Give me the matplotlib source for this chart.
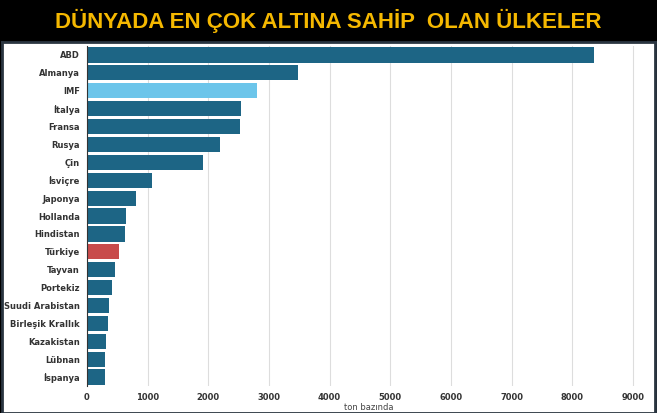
import matplotlib
matplotlib.use("Agg")
import matplotlib.pyplot as plt

countries = ["ABD","Almanya","IMF","İtalya","Fransa","Rusya","Çin","İsviçre","Japonya","Hollanda",
             "Hindistan","Türkiye","Tayvan","Portekiz","Suudi Arabistan","Birleşik Krallık","Kazakistan","Lübnan","İspanya"]
values = [8360,3480,2800,2540,2520,2200,1920,1070,800,650,630,520,460,410,360,340,310,300,300]
ticks = [0,1000,2000,3000,4000,5000,6000,7000,8000,9000]

W,H = 657,413
fig = plt.figure(figsize=(W/100,H/100), dpi=100, facecolor="black")
fig.text(0.5, 1-21/H, "DÜNYADA EN ÇOK ALTINA SAHİP  OLAN ÜLKELER", ha="center", va="center",
         color="#f5b800", fontsize=16, fontweight="bold", family="Liberation Sans")
panel = fig.add_axes([2/W, 0, 653/W, 1-42/H])
panel.set_facecolor("white"); panel.set_xticks([]); panel.set_yticks([])
for s in panel.spines.values():
    s.set_color("#2a3540"); s.set_linewidth(2)

ax = fig.add_axes([87/W, 1-386/H, (651-87)/W, (386-46)/H])
ax.set_facecolor("none")
colors = ["#1d6585"]*len(countries)
colors[countries.index("IMF")] = "#6cc5ea"
colors[countries.index("Türkiye")] = "#c84b4b"
y = range(len(countries))
ax.barh(list(y), values, color=colors, height=0.85)
ax.set_ylim(len(countries)-0.5, -0.5)
ax.set_xlim(0, 9300)
ax.set_yticks(list(y)); ax.set_yticklabels(countries, fontsize=6, fontweight="bold", color="#333333")
ax.set_xticks(ticks); ax.set_xticklabels([str(t) for t in ticks], fontsize=6, fontweight="bold", color="#333333")
ax.tick_params(length=0, pad=5)
ax.grid(axis="x", color="#dddddd", linewidth=0.8)
ax.set_axisbelow(True)
for s in ["top","right","bottom"]:
    ax.spines[s].set_visible(False)
ax.spines["left"].set_color("#333333")
ax.set_xlabel("ton bazında", fontsize=6, color="#444444", labelpad=1)
fig.savefig("out.png", dpi=100, facecolor="black")
